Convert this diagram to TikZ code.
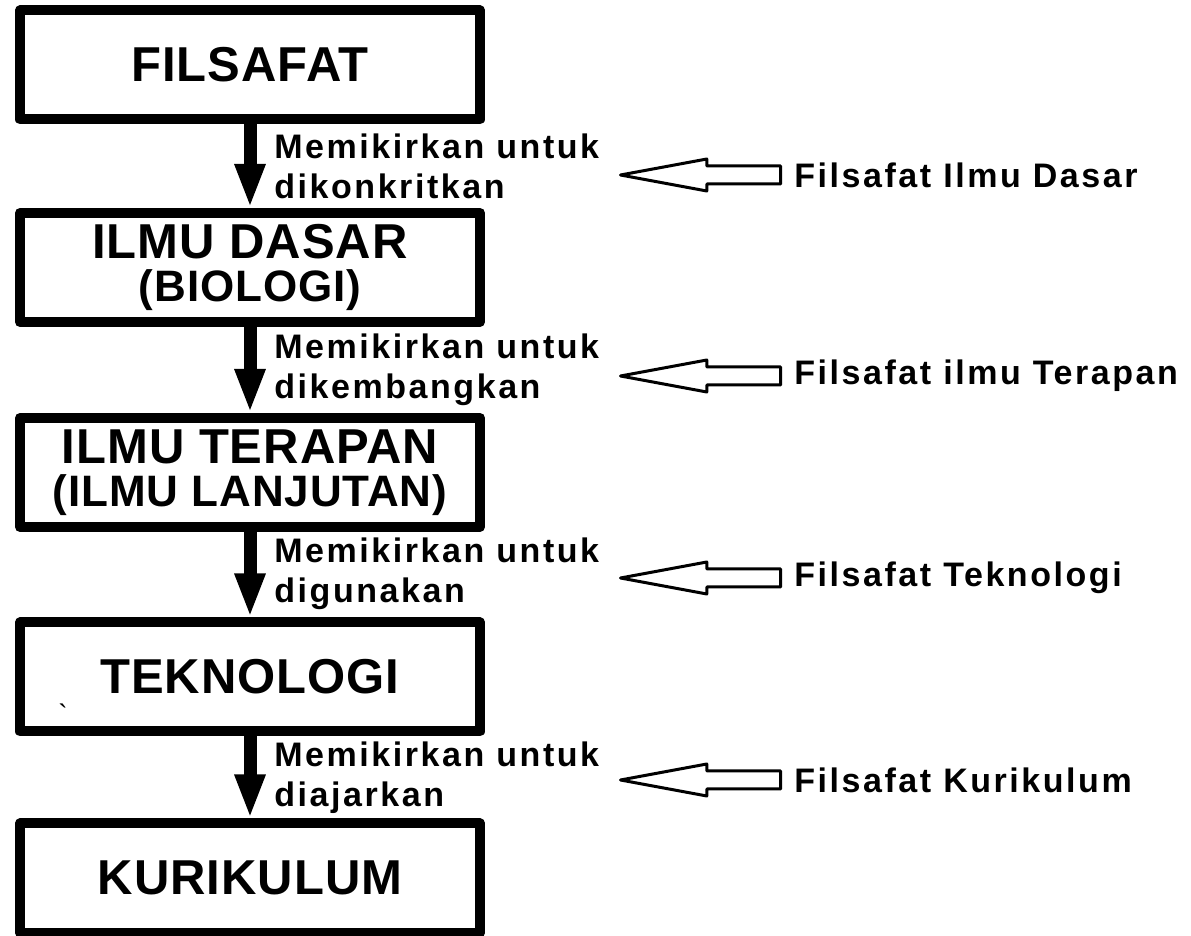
\documentclass[tikz,border=0pt]{standalone}
\usepackage{fontspec}
\setmainfont{Liberation Sans}
\newfontfamily\boxfont[LetterSpace=2]{Liberation Sans}
\newfontfamily\labelfont[LetterSpace=7.5]{Liberation Sans}
\usetikzlibrary{arrows.meta,shapes.arrows}
\tikzset{
  box/.style={draw, line width=5pt, minimum width=230pt, minimum height=54.5pt, align=center,
    font=\boxfont\bfseries\fontsize{24.5}{21.5}\selectfont},
  flow/.style={line width=6.5pt, -{Triangle[width=14pt,length=22pt]}},
  remark/.style={anchor=west, align=left, inner sep=0pt,
    font=\labelfont\bfseries\fontsize{17}{20}\selectfont},
  hollow/.style={single arrow, draw, line width=1.5pt, inner xsep=0pt, inner ysep=3.75pt,
    minimum height=80pt, single arrow head extend=3.5pt, single arrow tip angle=21,
    shape border rotate=180, anchor=tail}
}
\newcommand{\subline}[1]{{\fontsize{22}{21.5}\selectfont #1}}
\begin{document}
\begin{tikzpicture}[x=0.5pt, y=-0.5pt, line join=round]
\useasboundingbox (0,0) rectangle (1191,936);
% kotak utama
\node[box] (fil) at (250,65) {FILSAFAT};
\node[box] (ild) at (250,267.5) {ILMU DASAR\\\subline{(BIOLOGI)}};
\node[box] (ilt) at (250,472.5) {ILMU TERAPAN\\\subline{(ILMU LANJUTAN)}};
\node[box] (tek) at (250,677) {TEKNOLOGI};
\node[box] (kur) at (250,878) {KURIKULUM};
\node[font=\fontsize{14}{14}\selectfont] (tick) at (63,714) {\textasciigrave};
\foreach \a/\b in {fil/ild, ild/ilt, ilt/tek, tek/kur}
  \draw[flow] (\a) -- (\b);
% keterangan
\foreach \n/\y/\t in {1/166/dikonkritkan, 2/370/dikembangkan, 3/574/digunakan, 4/778/diajarkan}
  \node[remark] (mk\n) at (274,\y) {Memikirkan untuk\\\t};
\foreach \n/\y/\t in {1/175/Filsafat Ilmu Dasar, 2/376/Filsafat ilmu Terapan,
    3/578/Filsafat Teknologi, 4/780/Filsafat Kurikulum}{
  \node[hollow] (ar\n) at (782,\y) {};
  \node[remark] (fs\n) at (794,\y) {\t};
}
\end{tikzpicture}
\end{document}
